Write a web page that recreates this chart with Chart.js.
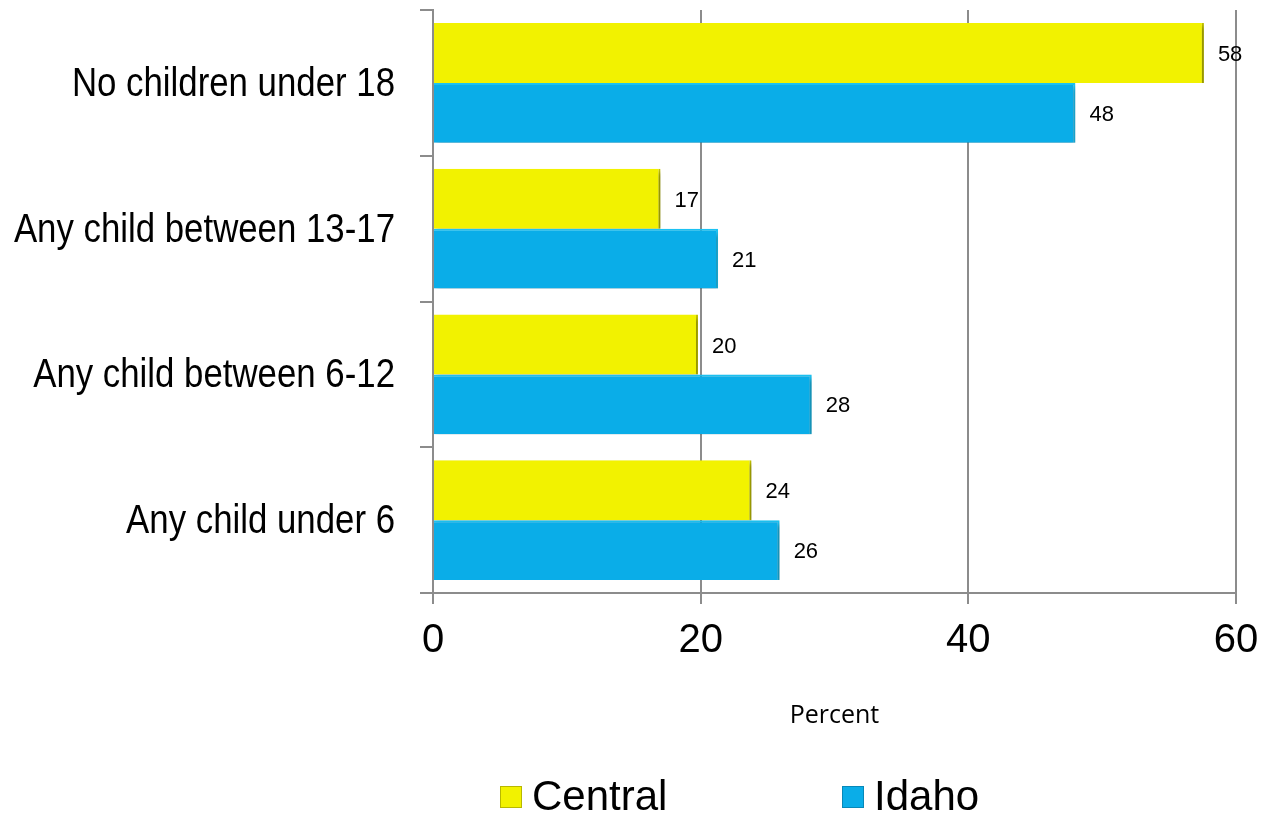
<!DOCTYPE html>
<html lang="en">
<head>
  <meta charset="UTF-8" />
  <title>Children in household</title>
  <style>
    body {
      margin: 0;
      background: #ffffff;
    }
    .chart-wrap {
      width: 1263px;
      height: 815px;
    }
  </style>
</head>
<body>
  <div class="chart-wrap">
    <canvas id="childChart" width="1263" height="815"></canvas>
  </div>

  <script src="https://cdn.jsdelivr.net/npm/chart.js"></script>
  <script>
    // data
    const categories = ['No children under 18', 'Any child between 13-17', 'Any child between 6-12', 'Any child under 6'];
    const centralValues = [57.6, 17.0, 19.8, 23.8];
    const idahoValues = [48.0, 21.3, 28.3, 25.9];
    const centralLabels = ['58', '17', '20', '24'];
    const idahoLabels = ['48', '21', '28', '26'];
    const xTicks = [0, 20, 40, 60];

    const yellow = '#f2f200';
    const blue = '#0aade8';
    const axisGray = '#8c8c8c';

    // soft shadow under the bars
    const barShadow = {
      id: 'barShadow',
      beforeDatasetsDraw(chart) {
        const c = chart.ctx;
        c.save();
        c.shadowColor = 'rgba(0,0,0,0.35)';
        c.shadowBlur = 5;
        c.shadowOffsetX = 2;
        c.shadowOffsetY = 3;
      },
      afterDatasetsDraw(chart) {
        chart.ctx.restore();
      }
    };

    // value labels to the right of each bar
    const valueLabels = {
      id: 'valueLabels',
      afterDatasetsDraw(chart) {
        const c = chart.ctx;
        const texts = [centralLabels, idahoLabels];
        c.save();
        c.font = '22px "Liberation Sans", Arial, sans-serif';
        c.fillStyle = '#000';
        c.textAlign = 'left';
        c.textBaseline = 'middle';
        chart.data.datasets.forEach((ds, i) => {
          chart.getDatasetMeta(i).data.forEach((bar, j) => {
            c.fillText(texts[i][j], bar.x + 14, bar.y + 2);
          });
        });
        c.restore();
      }
    };

    // category labels, squeezed sideways like a narrow font
    const narrowLabels = {
      id: 'narrowLabels',
      afterDraw(chart) {
        const c = chart.ctx;
        const yScale = chart.scales.y;
        c.save();
        c.font = '40px "Liberation Sans", Arial, sans-serif';
        c.fillStyle = '#000';
        c.textAlign = 'right';
        c.textBaseline = 'middle';
        chart.data.labels.forEach((lab, i) => {
          const y = yScale.getPixelForTick(i);
          c.save();
          c.translate(395, y + 2);
          c.scale(0.87, 1);
          c.fillText(lab, 0, 0);
          c.restore();
        });
        c.restore();
      }
    };

    // legend at the bottom, drawn by hand to get the wide gap
    const bottomLegend = {
      id: 'bottomLegend',
      afterDraw(chart) {
        const c = chart.ctx;
        const items = [
          { x: 500, label: 'Central', color: yellow, edge: '#b8b800' },
          { x: 842, label: 'Idaho', color: blue, edge: '#0788b8' }
        ];
        const y = 797;
        c.save();
        c.font = '42px "Liberation Sans", Arial, sans-serif';
        c.textBaseline = 'middle';
        c.textAlign = 'left';
        items.forEach(it => {
          c.fillStyle = it.color;
          c.fillRect(it.x, y - 11, 22, 22);
          c.strokeStyle = it.edge;
          c.lineWidth = 1;
          c.strokeRect(it.x + 0.5, y - 10.5, 21, 21);
          c.fillStyle = '#000';
          c.fillText(it.label, it.x + 32, y + 1);
        });
        c.restore();
      }
    };

    new Chart(document.getElementById('childChart'), {
      type: 'bar',
      data: {
        labels: categories,
        datasets: [
          {
            label: 'Central',
            data: centralValues,
            backgroundColor: yellow,
            borderColor: '#c9c900',
            borderWidth: { right: 2 },
            borderSkipped: false,
            categoryPercentage: 0.82,
            barPercentage: 1.0
          },
          {
            label: 'Idaho',
            data: idahoValues,
            backgroundColor: blue,
            borderColor: '#1cc4f5',
            borderWidth: { top: 2, right: 2 },
            borderSkipped: false,
            categoryPercentage: 0.82,
            barPercentage: 1.0
          }
        ]
      },
      options: {
        indexAxis: 'y',
        responsive: false,
        animation: false,
        layout: {
          padding: { top: 10, right: 27, bottom: 55, left: 0 }
        },
        plugins: {
          legend: { display: false },
          tooltip: { enabled: false }
        },
        scales: {
          x: {
            min: 0,
            max: 60,
            afterBuildTicks(scale) {
              scale.ticks = xTicks.map(v => ({ value: v }));
            },
            afterFit(scale) {
              scale.height = 167;
              scale.paddingLeft = 0;
              scale.paddingRight = 0;
            },
            grid: {
              color: axisGray,
              lineWidth: 2,
              tickLength: 11,
              drawTicks: true
            },
            border: { color: axisGray, width: 2 },
            ticks: {
              color: '#000',
              padding: 13,
              font: { family: '"Liberation Sans", Arial, sans-serif', size: 40 }
            },
            title: {
              display: true,
              text: 'Percent',
              color: '#000',
              padding: { top: 0, bottom: 29 },
              font: { family: '"Open Sans", "Noto Sans", sans-serif', size: 25 }
            }
          },
          y: {
            afterFit(scale) {
              scale.width = 433;
            },
            grid: {
              drawOnChartArea: false,
              color: axisGray,
              lineWidth: 2,
              tickLength: 13
            },
            border: { color: axisGray, width: 2 },
            ticks: { display: false }
          }
        }
      },
      plugins: [barShadow, valueLabels, narrowLabels, bottomLegend]
    });
  </script>
</body>
</html>
